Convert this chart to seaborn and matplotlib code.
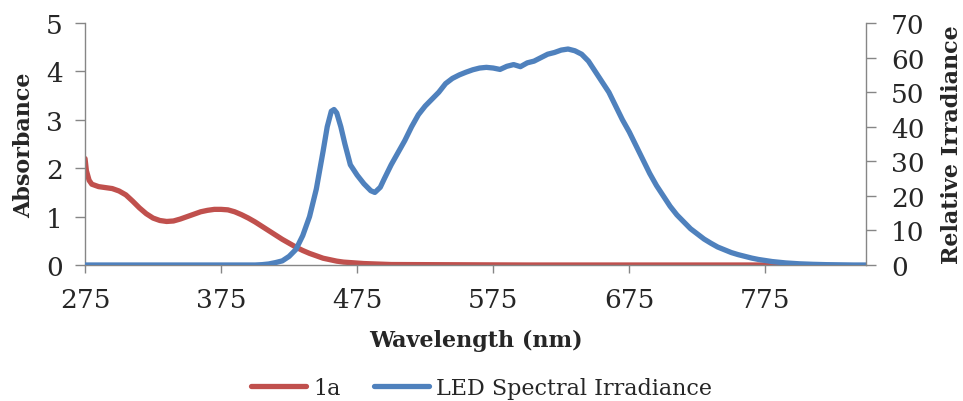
import matplotlib
matplotlib.use("Agg")
import matplotlib.pyplot as plt
import seaborn as sns
import pandas as pd

# ---- data ----
abs_wl = [275, 276, 278, 280, 285, 290, 295, 300, 305, 310, 315, 320, 325, 330, 335,
          340, 345, 350, 355, 360, 365, 370, 375, 380, 385, 390, 395, 400, 405, 410,
          415, 420, 425, 430, 435, 440, 445, 450, 455, 460, 465, 470, 480, 490, 500,
          550, 600, 700, 800]
abs_val = [2.2, 1.95, 1.75, 1.67, 1.62, 1.6, 1.58, 1.53, 1.45, 1.32, 1.18, 1.06, 0.97,
           0.92, 0.9, 0.91, 0.95, 1.0, 1.05, 1.1, 1.13, 1.15, 1.15, 1.14, 1.1, 1.04,
           0.97, 0.89, 0.8, 0.71, 0.62, 0.53, 0.45, 0.37, 0.3, 0.24, 0.19, 0.14, 0.11,
           0.08, 0.06, 0.05, 0.03, 0.02, 0.01, 0.005, 0.0, 0.0, 0.0]

led_wl = [275, 300, 350, 400, 405, 410, 415, 420, 425, 430, 435, 440, 445, 450, 453,
          456, 458, 460, 463, 466, 470, 475, 480, 485, 488, 492, 495, 500, 505, 510,
          515, 520, 525, 530, 535, 540, 545, 550, 555, 560, 565, 570, 575, 580, 585,
          590, 595, 600, 605, 610, 615, 620, 625, 630, 635, 640, 645, 650, 655, 660,
          665, 670, 675, 680, 685, 690, 695, 700, 705, 710, 715, 720, 725, 730, 735,
          740, 745, 750, 755, 760, 765, 770, 775, 780, 790, 800, 810, 820, 830, 840, 850]
led_val = [0, 0, 0, 0, 0.1, 0.3, 0.7, 1.2, 2.5, 4.5, 8.5, 14, 22, 33, 40,
           44.5, 45, 44, 40, 35, 29, 26, 23.5, 21.5, 21, 22.5, 25, 29, 32.5, 36,
           40, 43.5, 46, 48, 50, 52.5, 54, 55, 55.8, 56.5, 57, 57.2, 57, 56.6, 57.5,
           58, 57.4, 58.5, 59, 60, 61, 61.5, 62.2, 62.5, 62, 61, 59, 56, 53, 50,
           46, 42, 38.5, 34.5, 30.5, 26.5, 23, 20, 17, 14.5, 12.5, 10.5, 9, 7.5, 6.3,
           5.2, 4.4, 3.6, 3.0, 2.5, 2.0, 1.6, 1.3, 1.0, 0.6, 0.35, 0.2, 0.1, 0.05, 0.0, 0.0]

x_ticks = [275, 375, 475, 575, 675, 775]
left_ticks = [0, 1, 2, 3, 4, 5]
right_ticks = [0, 10, 20, 30, 40, 50, 60, 70]

series_names = ["1a", "LED Spectral Irradiance"]
colors = ["#C0504D", "#4F81BD"]

sns.set_theme(style="white")
plt.rcParams["font.family"] = ["DejaVu Serif"]

df_abs = pd.DataFrame({"wl": abs_wl, "val": abs_val})
df_led = pd.DataFrame({"wl": led_wl, "val": led_val})

fig = plt.figure(figsize=(9.63, 4.02), dpi=100)
ax = fig.add_axes([0.0883, 0.3383, 0.8110, 0.6017])
ax2 = ax.twinx()

sns.lineplot(data=df_abs, x="wl", y="val", ax=ax, color=colors[0], linewidth=3.8,
             label=series_names[0], legend=False)
sns.lineplot(data=df_led, x="wl", y="val", ax=ax2, color=colors[1], linewidth=3.8,
             label=series_names[1], legend=False)

ax.set_xlim(275, 849)
ax.set_ylim(0, 5)
ax2.set_ylim(0, 70)
ax.set_xticks(x_ticks)
ax.set_yticks(left_ticks)
ax2.set_yticks(right_ticks)

spine_c = "#868686"
for a in (ax, ax2):
    for s in a.spines.values():
        s.set_visible(False)
ax.spines["left"].set_visible(True)
ax.spines["bottom"].set_visible(True)
ax2.spines["right"].set_visible(True)
for s in (ax.spines["left"], ax.spines["bottom"], ax2.spines["right"]):
    s.set_color(spine_c)
    s.set_linewidth(1.0)

ax.tick_params(axis="x", direction="out", length=6, width=1, color=spine_c,
               labelsize=19, pad=10, bottom=True)
ax.tick_params(axis="y", direction="out", length=7, width=1, color=spine_c,
               labelsize=19, pad=9, left=True)
ax2.tick_params(axis="y", direction="out", length=7, width=1, color=spine_c,
                labelsize=19, pad=11, right=True)

ax.set_xlabel("Wavelength (nm)", fontsize=16, fontweight="bold", labelpad=12)
ax.set_ylabel("Absorbance", fontsize=16, fontweight="bold", labelpad=8)
ax2.set_ylabel("Relative Irradiance", fontsize=16, fontweight="bold", labelpad=12)
ax.grid(False)
ax2.grid(False)

h1, l1 = ax.get_legend_handles_labels()
h2, l2 = ax2.get_legend_handles_labels()
fig.legend(h1 + h2, l1 + l2, loc="lower center", bbox_to_anchor=(0.5, -0.045),
           ncol=2, frameon=False, fontsize=16, handlelength=2.5, columnspacing=1.5,
           handletextpad=0.3)

fig.savefig("out.png", dpi=100)
